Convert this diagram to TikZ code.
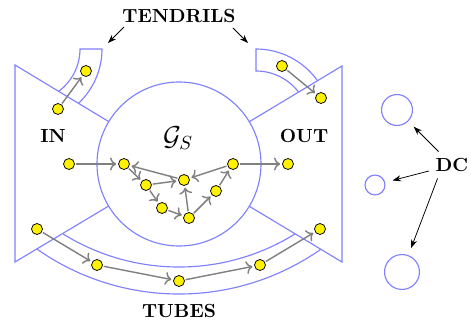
\documentclass[tikz,border=0pt]{standalone}
\usetikzlibrary{arrows.meta,calc}
\begin{document}
\begin{tikzpicture}[x=0.527pt,y=0.527pt,
  blueline/.style={draw=blue!50, line width=0.6pt},
  vtx/.style={circle, draw=black, fill=yellow, line width=0.4pt, minimum size=5.8pt, inner sep=0pt},
  edge/.style={draw=black!50, line width=0.75pt, ->, shorten >=1pt, shorten <=0.5pt},
  lbl/.style={font=\bfseries},
  ptr/.style={draw=black, line width=0.4pt, -{Stealth[length=4.5pt,width=3.2pt]}},
  dcc/.style={circle, draw=blue!50, line width=0.6pt, inner sep=0pt}]
\def\u{0.527pt}
\useasboundingbox (0,0) rectangle (471,322);
\coordinate (C) at (179,158);
% IN and OUT regions
\draw[blueline] (C) -- (15,257) -- (15,60) -- (C);
\draw[blueline] (C) -- (342,256) -- (342,60) -- (C);
% strongly connected core
\node[circle, draw=blue!50, line width=0.6pt, fill=white, minimum size=86.43pt, inner sep=0pt] (scc) at (C) {};
% tendrils
\draw[blueline] (58.58,230.69) arc[start angle=-53.7, end angle=0, radius=52.5*\u] -- (102,273) arc[start angle=0, end angle=-46.8, radius=74.5*\u];
\draw[blueline] (317.46,241.35) arc[start angle=35.5, end angle=90, radius=75.5*\u] -- (256,251) arc[start angle=90, end angle=37.3, radius=53.5*\u];
% tubes
\draw[blueline] (63.1,88.0) arc[start angle=238.2, end angle=301.8, radius=220*\u];
\draw[blueline] (37.0,72.9) arc[start angle=234.9, end angle=305.1, radius=247*\u];
% disconnected components
\node[dcc, minimum size=16.3pt] (dc1) at (397,212) {};
\node[dcc, minimum size=10.5pt] (dc2) at (375,137) {};
\node[dcc, minimum size=18.4pt] (dc3) at (402,50) {};
% labels
\node[lbl] (tendrils) at (179,306) {TENDRILS};
\node[lbl] (inl) at (53,186) {IN};
\node[lbl] (outl) at (304,186) {OUT};
\node (gs) at (178,184) {\Large $\mathcal{G}_S$};
\node[lbl] (dc) at (452,157) {DC};
\node[lbl] (tubes) at (179,11) {TUBES};
% label pointers
\coordinate (ts1) at (124,295);
\coordinate (te1) at (108,279);
\coordinate (ts2) at (233,294);
\coordinate (te2) at (248,279);
\draw[ptr] (ts1) -- (te1);
\draw[ptr] (ts2) -- (te2);
\draw[ptr, shorten >=4pt] (dc) -- (dc1);
\draw[ptr, shorten >=4pt] (dc) -- (dc2);
\draw[ptr, shorten >=4pt] ([xshift=4.5pt]dc.south west) -- (dc3);
% vertices
\node[vtx] (tl1) at (58,213) {};
\node[vtx] (tl2) at (86,251) {};
\node[vtx] (tr1) at (282,256) {};
\node[vtx] (tr2) at (321,224) {};
\node[vtx] (vin) at (69,158) {};
\node[vtx] (vout) at (288,158) {};
\node[vtx] (a) at (124,158) {};
\node[vtx] (b) at (146,137) {};
\node[vtx] (c) at (162,114) {};
\node[vtx] (d) at (189,104) {};
\node[vtx] (e) at (184,142) {};
\node[vtx] (f) at (216,131) {};
\node[vtx] (g) at (233,158) {};
\node[vtx] (t1) at (37,93) {};
\node[vtx] (t2) at (97,57) {};
\node[vtx] (t3) at (179,41) {};
\node[vtx] (t4) at (260,57) {};
\node[vtx] (t5) at (320,93) {};
% edges
\draw[edge] (tl1) -- (tl2);
\draw[edge] (tr1) -- (tr2);
\draw[edge] (vin) -- (a);
\draw[edge] (a) -- (b);
\draw[edge] (b) -- (e);
\draw[edge] (e) -- (a);
\draw[edge] (b) -- (c);
\draw[edge] (c) -- (d);
\draw[edge] (d) -- (e);
\draw[edge] (d) -- (f);
\draw[edge] (f) -- (g);
\draw[edge] (g) -- (e);
\draw[edge] (g) -- (vout);
\draw[edge] (t1) -- (t2);
\draw[edge] (t2) -- (t3);
\draw[edge] (t3) -- (t4);
\draw[edge] (t4) -- (t5);
\end{tikzpicture}
\end{document}
